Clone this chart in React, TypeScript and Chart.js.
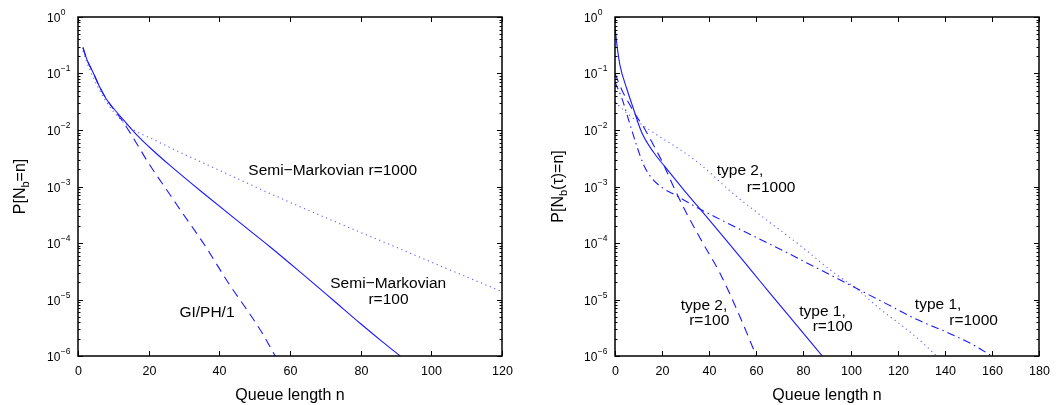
import React, { useEffect, useRef } from "react";
import { Chart, registerables } from "chart.js";

Chart.register(...registerables);

// ---------------- data ----------------
const leftXTicks = [0, 20, 40, 60, 80, 100, 120];
const rightXTicks = [0, 20, 40, 60, 80, 100, 120, 140, 160, 180];
const yDecadeExps = [0, -1, -2, -3, -4, -5, -6];

// Left: Semi-Markovian r=100 (solid)
const smR100N = [1.4, 2.5, 4.4, 6, 8.2, 10.1, 13, 16.7, 21, 26.1, 35.5, 45, 54.4, 63, 72, 80, 86, 91.2];
const smR100P = [0.288, 0.178, 0.1, 0.0603, 0.0339, 0.024, 0.0148, 8.13e-3, 4.47e-3, 2.34e-3, 7.59e-4, 2.51e-4, 8.51e-5, 3.02e-5, 1.0e-5, 3.72e-6, 1.82e-6, 1.0e-6];

// Left: GI/PH/1 (dashed)
const giN = [1.4, 2.5, 4.4, 6, 8.2, 10.1, 12.9, 17.2, 19.5, 22.8, 26.1, 29.9, 34.6, 36.5, 43, 48, 52, 55.8];
const giP = [0.288, 0.178, 0.1, 0.0603, 0.0339, 0.0234, 0.0135, 5.01e-3, 2.88e-3, 1.41e-3, 7.08e-4, 3.16e-4, 1.2e-4, 7.94e-5, 1.78e-5, 6.31e-6, 2.63e-6, 1.0e-6];

// Left: Semi-Markovian r=1000 (dotted)
const smR1000N = [1.4, 2.5, 4.4, 7.2, 10.1, 13.9, 21.4, 30.8, 43.1, 53.5, 70, 91, 105, 120];
const smR1000P = [0.251, 0.158, 0.0832, 0.038, 0.0209, 0.012, 6.76e-3, 3.55e-3, 1.58e-3, 7.94e-4, 2.82e-4, 7.94e-5, 3.39e-5, 1.38e-5];

// Right: type 1, r=100 (solid)
const t1r100N = [0, 1, 2.1, 5, 7.8, 11.3, 16.3, 21.2, 29, 34.7, 38.2, 47, 58.5, 66, 77, 88];
const t1r100P = [0.661, 0.282, 0.141, 0.0537, 0.024, 9.12e-3, 4.07e-3, 2.24e-3, 8.91e-4, 4.68e-4, 3.16e-4, 1.15e-4, 3.02e-5, 1.26e-5, 3.55e-6, 1.0e-6];

// Right: type 2, r=100 (dashed)
const t2r100N = [0, 3, 6.2, 9, 12, 15.6, 20.5, 24.8, 30.2, 37.3, 44.4, 53, 60];
const t2r100P = [0.1, 0.0501, 0.0282, 0.0178, 0.0115, 6.17e-3, 2.51e-3, 1.0e-3, 3.47e-4, 1.0e-4, 3.02e-5, 5.01e-6, 1.0e-6];

// Right: type 1, r=1000 (dash-dot)
const t1r1000N = [0, 3, 6, 9, 12, 15, 20, 26, 34.7, 45, 58.5, 72, 86, 100, 114, 128, 142, 152, 160];
const t1r1000P = [0.0708, 0.0355, 0.0141, 5.62e-3, 2.51e-3, 1.51e-3, 9.55e-4, 6.92e-4, 4.27e-4, 2.57e-4, 1.35e-4, 7.08e-5, 3.55e-5, 1.78e-5, 8.91e-6, 4.47e-6, 2.51e-6, 1.58e-6, 1.0e-6];

// Right: type 2, r=1000 (dotted)
const t2r1000N = [0, 5, 10.6, 19, 27, 36, 50, 64, 78.5, 92.7, 103.5, 112, 123, 131, 136.5];
const t2r1000P = [0.0316, 0.02, 0.0132, 7.59e-3, 4.68e-3, 2.51e-3, 7.59e-4, 2.63e-4, 9.12e-5, 3.02e-5, 1.45e-5, 7.08e-6, 3.16e-6, 1.66e-6, 1.0e-6];

// ---------------- styles / layout ----------------
const FONT = '"Liberation Sans", Arial, Helvetica, sans-serif';
const BLUE = "rgb(25,25,255)";
const LIGHT_BLUE = "rgb(95,95,255)";
const SOLID: number[] = [];
const DASHED = [9, 6];
const DOTTED = [1.2, 3.6];
const DASHDOT = [8, 4, 1.5, 4];

type Note = { text: string; x: number; y: number };
type Part = { t: string; sub?: boolean };

const leftPanel = {
  left: 0,
  width: 530,
  padLeft: 78,
  padRight: 28,
  xMax: 120,
  xTicks: leftXTicks,
  yTitle: [{ t: "P[N" }, { t: "b", sub: true }, { t: "=n]" }] as Part[],
  yTitleX: 25,
  series: [
    { n: smR100N, p: smR100P, dash: SOLID, color: BLUE },
    { n: giN, p: giP, dash: DASHED, color: BLUE },
    { n: smR1000N, p: smR1000P, dash: DOTTED, color: LIGHT_BLUE },
  ],
  notes: [
    { text: "Semi\u2212Markovian r=1000", x: 48.2, y: 1.62e-3 },
    { text: "Semi\u2212Markovian", x: 71.4, y: 1.6e-5 },
    { text: "r=100", x: 82.2, y: 8.3e-6 },
    { text: "GI/PH/1", x: 28.7, y: 5.0e-6 },
  ] as Note[],
};

const rightPanel = {
  left: 530,
  width: 530,
  padLeft: 85,
  padRight: 21,
  xMax: 180,
  xTicks: rightXTicks,
  yTitle: [{ t: "P[N" }, { t: "b", sub: true }, { t: "(\u03c4)=n]" }] as Part[],
  yTitleX: 563,
  series: [
    { n: t1r100N, p: t1r100P, dash: SOLID, color: BLUE },
    { n: t2r100N, p: t2r100P, dash: DASHED, color: BLUE },
    { n: t1r1000N, p: t1r1000P, dash: DASHDOT, color: BLUE },
    { n: t2r1000N, p: t2r1000P, dash: DOTTED, color: LIGHT_BLUE },
  ],
  notes: [
    { text: "type 2,", x: 43.2, y: 1.58e-3 },
    { text: "r=1000", x: 55.9, y: 7.9e-4 },
    { text: "type 2,", x: 27.9, y: 6.5e-6 },
    { text: "r=100", x: 31.5, y: 3.5e-6 },
    { text: "type 1,", x: 78.2, y: 5.2e-6 },
    { text: "r=100", x: 83.9, y: 2.8e-6 },
    { text: "type 1,", x: 127.3, y: 6.9e-6 },
    { text: "r=1000", x: 141.9, y: 3.5e-6 },
  ] as Note[],
};

type Panel = typeof leftPanel;

function makeDecor(panel: Panel) {
  return {
    id: "decor",
    afterDatasetsDraw(chart: any) {
      const ctx: CanvasRenderingContext2D = chart.ctx;
      const xs = chart.scales.x;
      const ys = chart.scales.y;
      const { left, right, top, bottom } = chart.chartArea;
      ctx.save();
      ctx.strokeStyle = "#000";
      ctx.fillStyle = "#000";
      ctx.lineWidth = 1;

      // x ticks + labels
      ctx.font = `12.5px ${FONT}`;
      ctx.textAlign = "center";
      ctx.textBaseline = "alphabetic";
      for (const v of panel.xTicks) {
        const px = Math.round(xs.getPixelForValue(v)) + 0.5;
        ctx.beginPath();
        ctx.moveTo(px, bottom);
        ctx.lineTo(px, bottom - 5);
        ctx.moveTo(px, top);
        ctx.lineTo(px, top + 5);
        ctx.stroke();
        ctx.fillText(String(v), px, bottom + 19);
      }

      // y ticks (major + minor) + labels
      for (const e of yDecadeExps) {
        const base = Math.pow(10, e);
        const py = Math.round(ys.getPixelForValue(base)) + 0.5;
        ctx.beginPath();
        ctx.moveTo(left, py);
        ctx.lineTo(left + 5, py);
        ctx.moveTo(right, py);
        ctx.lineTo(right - 5, py);
        ctx.stroke();
        if (e < 0) {
          for (let m = 2; m <= 9; m++) {
            const my = Math.round(ys.getPixelForValue(m * base)) + 0.5;
            ctx.beginPath();
            ctx.moveTo(left, my);
            ctx.lineTo(left + 2.5, my);
            ctx.moveTo(right, my);
            ctx.lineTo(right - 2.5, my);
            ctx.stroke();
          }
        }
        const lx = left - 31;
        ctx.textAlign = "left";
        ctx.textBaseline = "middle";
        ctx.font = `12px ${FONT}`;
        ctx.fillText("10", lx, py + 1);
        const w = ctx.measureText("10").width;
        ctx.font = `8.5px ${FONT}`;
        ctx.fillText(e === 0 ? "0" : "\u2212" + String(-e), lx + w + 0.5, py - 5);
      }

      // frame
      ctx.lineWidth = 1.5;
      ctx.strokeRect(left, top, right - left, bottom - top);

      // x title
      ctx.font = `16px ${FONT}`;
      ctx.textAlign = "center";
      ctx.textBaseline = "alphabetic";
      ctx.fillText("Queue length n", (left + right) / 2, 400);

      // y title (rotated, with subscript)
      ctx.save();
      const cy = (top + bottom) / 2;
      ctx.translate(panel.yTitleX - panel.left, cy);
      ctx.rotate(-Math.PI / 2);
      let total = 0;
      const widths: number[] = [];
      for (const part of panel.yTitle) {
        ctx.font = part.sub ? `11px ${FONT}` : `16px ${FONT}`;
        const w = ctx.measureText(part.t).width;
        widths.push(w);
        total += w;
      }
      let x0 = -total / 2;
      ctx.textAlign = "left";
      panel.yTitle.forEach((part, i) => {
        ctx.font = part.sub ? `11px ${FONT}` : `16px ${FONT}`;
        ctx.fillText(part.t, x0, part.sub ? 4 : 0);
        x0 += widths[i];
      });
      ctx.restore();

      // in-plot notes
      ctx.font = `15.5px ${FONT}`;
      ctx.textAlign = "left";
      ctx.textBaseline = "alphabetic";
      for (const n of panel.notes) {
        ctx.fillText(n.text, xs.getPixelForValue(n.x), ys.getPixelForValue(n.y));
      }
      ctx.restore();
    },
  };
}

function PanelChart({ panel }: { panel: Panel }) {
  const ref = useRef<HTMLCanvasElement | null>(null);
  useEffect(() => {
    if (!ref.current) return;
    const datasets = panel.series.map((s) => ({
      data: s.n.map((x, i) => ({ x, y: s.p[i] })),
      borderColor: s.color,
      borderWidth: 1.1,
      borderDash: s.dash,
      pointRadius: 0,
      fill: false,
      cubicInterpolationMode: "monotone" as const,
    }));
    const chart = new Chart(ref.current, {
      type: "line",
      data: { datasets },
      options: {
        responsive: false,
        animation: false,
        devicePixelRatio: 1,
        layout: { padding: { left: 0, right: panel.padRight, top: 17, bottom: 0 } },
        plugins: { legend: { display: false }, tooltip: { enabled: false } },
        scales: {
          x: {
            type: "linear",
            min: 0,
            max: panel.xMax,
            grid: { display: false },
            border: { display: false },
            ticks: { display: false },
            afterFit: (s: any) => {
              s.height = 49;
            },
          },
          y: {
            type: "logarithmic",
            min: 1e-6,
            max: 1,
            grid: { display: false },
            border: { display: false },
            ticks: { display: false },
            afterFit: (s: any) => {
              s.width = panel.padLeft;
            },
          },
        },
      },
      plugins: [makeDecor(panel)],
    } as any);
    return () => chart.destroy();
  }, [panel]);
  return (
    <canvas
      ref={ref}
      width={panel.width}
      height={405}
      style={{ position: "absolute", left: panel.left, top: 0, width: panel.width, height: 405 }}
    />
  );
}

export default function App() {
  return (
    <div style={{ position: "absolute", left: 0, top: 0, width: 1060, height: 405, background: "#fff" }}>
      <PanelChart panel={leftPanel} />
      <PanelChart panel={rightPanel} />
    </div>
  );
}
